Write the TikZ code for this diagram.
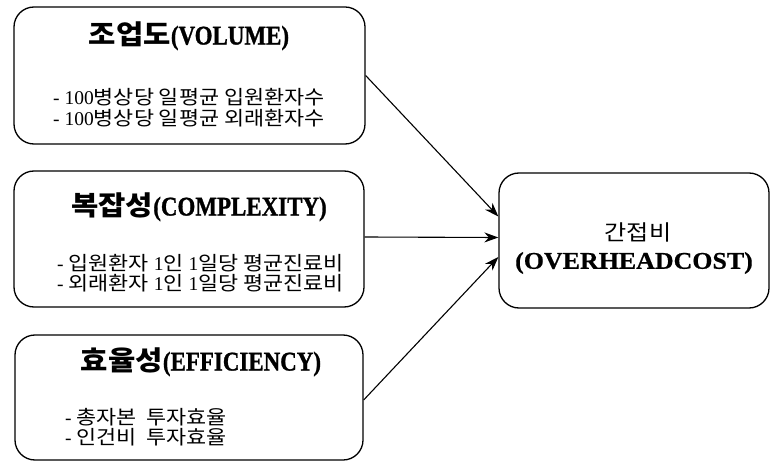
\documentclass[tikz,border=0pt]{standalone}
\usepackage{fontspec}
\setmainfont{Liberation Serif}
\newfontfamily\kr[FakeStretch=1.12]{Noto Sans CJK KR}
\newfontfamily\krw[FakeStretch=1.1]{Noto Sans CJK KR}
\newfontfamily\ttl[FakeStretch=0.85, UprightFont={* Bold}, FakeBold=1]{Liberation Serif}
\newfontfamily\ttr[FakeStretch=1.08, UprightFont={* Bold}, FakeBold=0.6]{Liberation Serif}
\usetikzlibrary{arrows.meta}
\tikzset{
  box/.style={draw, line width=1.3pt, rounded corners=20pt, inner sep=0pt},
  body/.style={font=\fontsize{19.5}{22}\selectfont, inner sep=0pt, anchor=west},
  title/.style={inner sep=0pt},
  arr/.style={line width=1.1pt, -{Stealth[length=14pt,width=10pt]}}
}
\newcommand{\krt}[1]{{\krw\bfseries\fontsize{27}{32}\selectfont #1}}
\newcommand{\lat}[1]{{\ttl\fontsize{27}{32}\selectfont #1}}
\begin{document}
\begin{tikzpicture}[x=1pt,y=-1pt]
\useasboundingbox (0,0) rectangle (770,462);
% boxes
\node[box, minimum width=351pt, minimum height=137pt] (b1) at (189.5,75.5) {};
\node[box, minimum width=350pt, minimum height=136pt] (b2) at (189,239) {};
\node[box, minimum width=348pt, minimum height=125pt] (b3) at (189,397.5) {};
\node[box, minimum width=270pt, minimum height=135pt] (r) at (634,240.5) {};
% box 1
\node[title] (t1) at (189,36) {\krt{조업도}\lat{(VOLUME)}};
\node[body] (l11) at (53,97) {- 100{\kr 병상당 일평균 입원환자수}};
\node[body] (l12) at (53,118) {- 100{\kr 병상당 일평균 외래환자수}};
% box 2
\node[title] (t2) at (199,207) {\krt{복잡성}\lat{(COMPLEXITY)}};
\node[body] (l21) at (57,263) {- {\kr 입원환자} 1{\kr 인} 1{\kr 일당 평균진료비}};
\node[body] (l22) at (57,283) {- {\kr 외래환자} 1{\kr 인} 1{\kr 일당 평균진료비}};
% box 3
\node[title] (t3) at (201,362) {\krt{효율성}\lat{(EFFICIENCY)}};
\node[body] (l31) at (65,417) {- {\kr 총자본\ \ 투자효율}};
\node[body] (l32) at (65,437) {- {\kr 인건비\ \ 투자효율}};
% right box
\node[inner sep=0pt, font=\kr\fontsize{21.5}{26}\selectfont] (rt1) at (638,232) {간접비};
\node[inner sep=0pt, font=\ttr\fontsize{24}{28}\selectfont] (rt2) at (634,263) {(OVERHEADCOST)};
% connectors
\draw[arr] (b1.east) -- ([yshift=24pt]r.west);
\draw[arr] ([yshift=2pt]b2.east) -- ([yshift=3pt]r.west);
\draw[arr] ([yshift=-2.5pt]b3.east) -- ([yshift=-16.5pt]r.west);
\end{tikzpicture}
\end{document}
